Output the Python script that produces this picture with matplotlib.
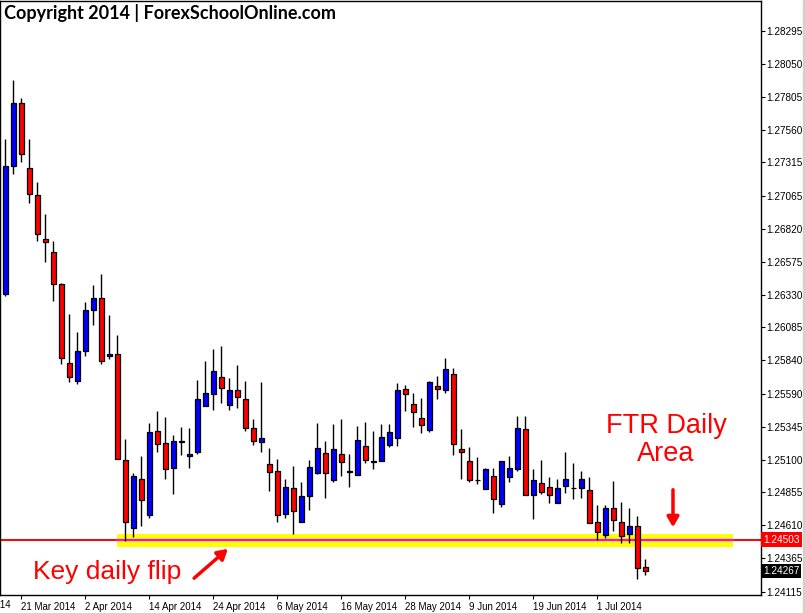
import matplotlib.pyplot as plt
import matplotlib.transforms as mtransforms
import numpy as np

# daily candles, 19 Mar 2014 .. 11 Jul 2014
opens = [1.26334, 1.27289, 1.27758, 1.27274, 1.27072, 1.26744, 1.26647, 1.26409, 1.25820, 1.25686,
         1.25909, 1.26215, 1.26304, 1.25872, 1.25887, 1.25097, 1.24590, 1.24955, 1.24687, 1.25313,
         1.25224, 1.25037, 1.25231, 1.25127, 1.25156, 1.25499, 1.25589, 1.25716, 1.25507, 1.25619,
         1.25552, 1.25335, 1.25231, 1.25067, 1.25015, 1.24694, 1.24888, 1.24635, 1.24828, 1.25000,
         1.25149, 1.24948, 1.25141, 1.25007, 1.24985, 1.25201, 1.25085, 1.25089, 1.25209, 1.25261,
         1.25626, 1.25514, 1.25410, 1.25320, 1.25648, 1.25619, 1.25738, 1.25179, 1.25089, 1.24945,
         1.24881, 1.24977, 1.24769, 1.24970, 1.25030, 1.25328, 1.24836, 1.24925, 1.24895, 1.24776,
         1.24903, 1.24888, 1.24888, 1.24873, 1.24635, 1.24538, 1.24739, 1.24635, 1.24545, 1.24605,
         1.24299]
highs = [1.27490, 1.27930, 1.27795, 1.27490, 1.27169, 1.26931, 1.26729, 1.26416, 1.26185, 1.26051,
         1.26275, 1.26401, 1.26483, 1.26178, 1.26029, 1.25253, 1.25000, 1.25127, 1.25373, 1.25462,
         1.25417, 1.25283, 1.25343, 1.25335, 1.25693, 1.25835, 1.25924, 1.25947, 1.25708, 1.25805,
         1.25686, 1.25402, 1.25678, 1.25186, 1.25104, 1.24955, 1.25052, 1.24933, 1.25097, 1.25373,
         1.25238, 1.25365, 1.25402, 1.25141, 1.25350, 1.25380, 1.25313, 1.25365, 1.25365, 1.25671,
         1.25656, 1.25596, 1.25559, 1.25686, 1.25723, 1.25857, 1.25783, 1.25328, 1.25194, 1.25119,
         1.25037, 1.25037, 1.25089, 1.25127, 1.25425, 1.25425, 1.25030, 1.25097, 1.24970, 1.24955,
         1.25156, 1.25074, 1.25015, 1.24970, 1.24761, 1.24761, 1.24940, 1.24784, 1.24739, 1.24679,
         1.24359]
lows = [1.26319, 1.27229, 1.27318, 1.27013, 1.26729, 1.26573, 1.26282, 1.25812, 1.25678, 1.25663,
        1.25872, 1.26103, 1.25812, 1.25850, 1.25104, 1.24493, 1.24523, 1.24605, 1.24664, 1.25156,
        1.24955, 1.24843, 1.25134, 1.25037, 1.25141, 1.25499, 1.25469, 1.25522, 1.25469, 1.25484,
        1.25313, 1.25209, 1.25156, 1.24866, 1.24635, 1.24664, 1.24545, 1.24635, 1.24724, 1.24992,
        1.24813, 1.24933, 1.24977, 1.24895, 1.24985, 1.25074, 1.25030, 1.25089, 1.25194, 1.25201,
        1.25462, 1.25343, 1.25298, 1.25305, 1.25552, 1.25596, 1.25134, 1.24955, 1.24933, 1.24918,
        1.24881, 1.24702, 1.24746, 1.24933, 1.25015, 1.24836, 1.24657, 1.24843, 1.24776, 1.24776,
        1.24851, 1.24806, 1.24813, 1.24627, 1.24500, 1.24515, 1.24567, 1.24478, 1.24478, 1.24210,
        1.24239]
closes = [1.27289, 1.27758, 1.27378, 1.27080, 1.26782, 1.26722, 1.26409, 1.25857, 1.25716, 1.25909,
          1.26215, 1.26304, 1.25835, 1.25887, 1.25104, 1.24635, 1.24977, 1.24799, 1.25305, 1.25216,
          1.25030, 1.25238, 1.25238, 1.25141, 1.25552, 1.25596, 1.25760, 1.25634, 1.25619, 1.25566,
          1.25335, 1.25238, 1.25261, 1.25007, 1.24687, 1.24895, 1.24717, 1.24828, 1.25045, 1.25186,
          1.25000, 1.25179, 1.25082, 1.25015, 1.25246, 1.25097, 1.25085, 1.25268, 1.25305, 1.25619,
          1.25589, 1.25455, 1.25358, 1.25678, 1.25626, 1.25775, 1.25216, 1.25156, 1.24948, 1.24945,
          1.25030, 1.24806, 1.25089, 1.25037, 1.25335, 1.24836, 1.24948, 1.24858, 1.24836, 1.24888,
          1.24955, 1.24888, 1.24955, 1.24627, 1.24560, 1.24739, 1.24649, 1.24530, 1.24605, 1.24292,
          1.24267]

date_labels = ['11 Mar 2014', '21 Mar 2014', '2 Apr 2014', '14 Apr 2014', '24 Apr 2014', '6 May 2014',
               '16 May 2014', '28 May 2014', '9 Jun 2014', '19 Jun 2014', '1 Jul 2014']
date_index = [-6, 2, 10, 18, 26, 34, 42, 50, 58, 66, 74]

price_ticks = [1.24115, 1.24365, 1.24610, 1.24855, 1.25100, 1.25345, 1.25590, 1.25840, 1.26085,
               1.26330, 1.26575, 1.26820, 1.27065, 1.27315, 1.27560, 1.27805, 1.28050, 1.28295]

level = 1.24503
last_price = 1.24267
zone_top, zone_bottom = 1.24545, 1.24448
zone_start, zone_end = 13.96, 90.96

W, H = 805, 613
fig = plt.figure(figsize=(W / 100, H / 100), dpi=100)
ax = fig.add_axes([0, (H - 595) / H, 761 / W, 594 / H])

o = np.array(opens); h = np.array(highs); l = np.array(lows); c = np.array(closes)
x = np.arange(len(o))
cols = np.where(c > o, '#0000ff', np.where(c < o, '#ff0000', '#000000'))

# level line and zone
ax.axhline(level, color='#ff0000', lw=1.4, zorder=1)
ax.fill_between([zone_start, zone_end], zone_bottom, zone_top, color='#ffff00', lw=0, zorder=2)
ax.plot([zone_start, zone_end], [level, level], color='#ff00ff', lw=1.6, zorder=2.5)

# candles
ax.vlines(x, l, h, color='black', lw=1.0, zorder=3)
body_h = np.maximum(np.abs(c - o), 0.000015)
ax.bar(x, body_h, bottom=np.minimum(o, c) - np.where(c == o, 0.0000075, 0), width=0.62,
       color=cols, edgecolor='black', linewidth=0.9, zorder=4)

ax.set_xlim(-0.66, 94.46)
ax.set_ylim(1.24090, 1.28519)

# axes styling
ax.yaxis.tick_right()
ax.set_yticks(price_ticks)
ax.set_yticklabels([f'{v:.5f}' for v in price_ticks])
ax.set_xticks(date_index[1:])
ax.set_xticklabels(date_labels[1:])
for lab in ax.get_xticklabels():
    lab.set_horizontalalignment('left')
ax.tick_params(axis='y', length=3, width=0.8, pad=1, labelsize=7.2, labelfontfamily='Liberation Sans')
ax.tick_params(axis='x', length=3, width=0.8, pad=2, labelsize=7, labelfontfamily='Liberation Sans')
for s in ax.spines.values():
    s.set_linewidth(1.0)

# clipped date at the left edge
trans = mtransforms.blended_transform_factory(ax.transData, ax.transAxes)
ax.text(date_index[0], -0.008, date_labels[0], transform=trans, ha='left', va='top',
        fontsize=7, family='Liberation Sans', clip_on=False)

# price boxes on the scale
ytrans = mtransforms.blended_transform_factory(ax.transAxes, ax.transData)
ax.text(1.0025, level, f'{level:.5f}', transform=ytrans, ha='left', va='center', color='white',
        fontsize=7.2, family='Liberation Sans',
        bbox=dict(boxstyle='square,pad=0.22', fc='#ff0000', ec='none'))
ax.text(1.0025, last_price, f'{last_price:.5f}', transform=ytrans, ha='left', va='center',
        color='white', fontsize=7.2, family='Liberation Sans',
        bbox=dict(boxstyle='square,pad=0.22', fc='black', ec='none'))

# right gray strip
fig.patches.append(plt.Rectangle((803 / W, 0), 2 / W, 1, transform=fig.transFigure,
                                 color='#d4d0c8', zorder=0))

# texts
fig.text(4 / W, 1 - 13.5 / H, 'Copyright 2014 | ForexSchoolOnline.com', ha='left', va='center',
         fontsize=13, fontweight='bold', family='Lato')
fig.text(666 / W, 1 - 440 / H, 'FTR Daily\nArea', ha='center', va='center', color='#ff0000',
         fontsize=19.5, family='Liberation Sans', linespacing=1.1)
fig.text(33 / W, 1 - 572 / H, 'Key daily flip', ha='left', va='center', color='#ff0000',
         fontsize=19, family='Liberation Sans')

arrow = dict(arrowstyle='-|>,head_length=0.6,head_width=0.35', color='#ff0000', lw=2.5)
ax.annotate('', xy=(230, H - 547), xytext=(192, H - 580), xycoords='figure pixels',
            textcoords='figure pixels', arrowprops=arrow)
ax.annotate('', xy=(673, H - 530), xytext=(673, H - 487), xycoords='figure pixels',
            textcoords='figure pixels', arrowprops=arrow)

fig.savefig('out.png', dpi=100)
